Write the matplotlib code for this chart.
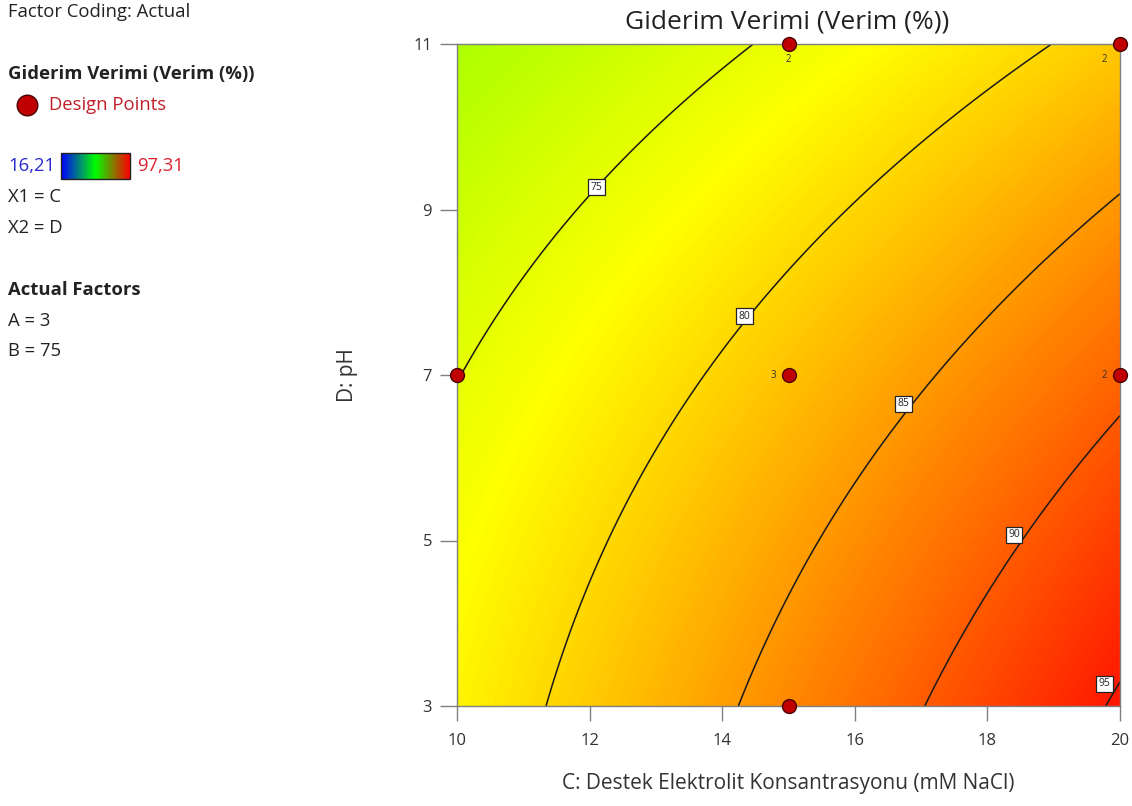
import numpy as np
import matplotlib
matplotlib.use("Agg")
import matplotlib.pyplot as plt
from matplotlib.colors import LinearSegmentedColormap
from matplotlib.patches import Rectangle

plt.rcParams["font.family"] = ["Open Sans", "DejaVu Sans"]

# Quadratic response model in coded units: c = (C - 15) / 5, d = (D - 7) / 4
# terms: intercept, c, d, c*d, c^2, d^2
model_coef = [81.79, 7.11, -5.38, -1.72, 0.24, -0.84]
y_min, y_max = 16.21, 97.31
contour_levels = [75, 80, 85, 90, 95]

# Design points (C, D) and their replicate counts
design_C = [10, 15, 15, 15, 20, 20]
design_D = [7, 3, 7, 11, 7, 11]
design_n = [1, 1, 3, 2, 2, 2]

x_ticks = [10, 12, 14, 16, 18, 20]
y_ticks = [3, 5, 7, 9, 11]

# where the contour values are written
label_spots = [(12.11, 9.27), (14.34, 7.71), (16.73, 6.65), (18.40, 5.07), (19.76, 3.27)]


def response(C, D):
    c = (C - 15) / 5
    d = (D - 7) / 4
    b = model_coef
    return b[0] + b[1] * c + b[2] * d + b[3] * c * d + b[4] * c ** 2 + b[5] * d ** 2


surface_cmap = LinearSegmentedColormap.from_list(
    "de_surface", ["#0000ff", "#00ffff", "#00ff00", "#ffff00", "#ff0000"])
legend_cmap = LinearSegmentedColormap.from_list(
    "de_legend", ["#0000ff", "#00ff00", "#ff0000"])

W, H = 1132, 806
fig = plt.figure(figsize=(W / 100, H / 100), dpi=100)

ax = fig.add_axes([457 / W, 1 - 706 / H, 663 / W, 662 / H])
cc = np.linspace(10, 20, 400)
dd = np.linspace(3, 11, 400)
CC, DD = np.meshgrid(cc, dd)
Z = response(CC, DD)
ax.imshow(Z, extent=[10, 20, 3, 11], origin="lower", aspect="auto",
          cmap=surface_cmap, vmin=y_min, vmax=y_max, interpolation="bilinear")
cs = ax.contour(CC, DD, Z, levels=contour_levels, colors="#1a1a1a", linewidths=1.1)
labels = ax.clabel(cs, fmt="%d", fontsize=7.5, inline=False, manual=label_spots)
for t, spot in zip(labels, label_spots):
    t.set_position(spot)
    t.set_rotation(0)
    t.set_color("#222222")
    t.set_zorder(5)
    t.set_bbox(dict(facecolor="white", edgecolor="#222222", linewidth=0.9, pad=1.8))

ax.scatter(design_C, design_D, s=100, facecolor="#c00000", edgecolor="#4a0000",
           linewidth=1.0, zorder=6, clip_on=False)
for C, D, n in zip(design_C, design_D, design_n):
    if n < 2:
        continue
    if D == 11 and C == 20:
        off = (-11, -11)
    elif D == 11:
        off = (0, -11)
    else:
        off = (-11, 0)
    ax.annotate(str(n), (C, D), xytext=off, textcoords="offset points",
                fontsize=7, color="#333333", ha="center", va="center", zorder=7)

ax.set_xlim(10, 20)
ax.set_ylim(3, 11)
ax.set_xticks(x_ticks)
ax.set_yticks(y_ticks)
for s in ax.spines.values():
    s.set_color("#808080")
    s.set_linewidth(1.0)
ax.tick_params(axis="x", direction="out", length=11, width=1.0, color="#808080",
               labelsize=12, labelcolor="#333333", pad=8.5)
ax.tick_params(axis="y", direction="out", length=12, width=1.0, color="#808080",
               labelsize=12, labelcolor="#333333", pad=6)
ax.set_xlabel("C: Destek Elektrolit Konsantrasyonu (mM NaCl)", fontsize=15,
              color="#333333", labelpad=17)
ax.set_ylabel("D: pH", fontsize=15, color="#333333", labelpad=40)

# side panel and title drawn in pixel coordinates
side = fig.add_axes([0, 0, 1, 1], zorder=-1)
side.set_xlim(0, W)
side.set_ylim(H, 0)
side.axis("off")
side.text(787, 22, "Giderim Verimi (Verim (%))", fontsize=19, color="#222222",
          ha="center", va="center")
fs = 13.3
txt = dict(fontsize=fs, color="#222222", va="center", ha="left")
side.text(8, 12, "Factor Coding: Actual", **txt)
side.text(8, 74, "Giderim Verimi (Verim (%))", fontweight="bold", **txt)
side.scatter([27], [105], s=220, facecolor="#c00000", edgecolor="#4a0000", linewidth=1.0)
side.text(49, 105, "Design Points", fontsize=fs, color="#c0202a", va="center", ha="left")
side.text(8, 166, "16,21", fontsize=fs, color="#2a2ad0", va="center", ha="left")
side.imshow(np.linspace(0, 1, 100)[None, :], extent=[61, 130, 179, 153],
            cmap=legend_cmap, aspect="auto")
side.add_patch(Rectangle((61, 153), 69, 26, fill=False, edgecolor="#222222", linewidth=1))
side.text(137, 166, "97,31", fontsize=fs, color="#e02030", va="center", ha="left")
side.text(8, 197, "X1 = C", **txt)
side.text(8, 228, "X2 = D", **txt)
side.text(8, 290, "Actual Factors", fontweight="bold", **txt)
side.text(8, 321, "A = 3", **txt)
side.text(8, 351, "B = 75", **txt)
side.set_xlim(0, W)
side.set_ylim(H, 0)

fig.savefig("out.png", dpi=100)
